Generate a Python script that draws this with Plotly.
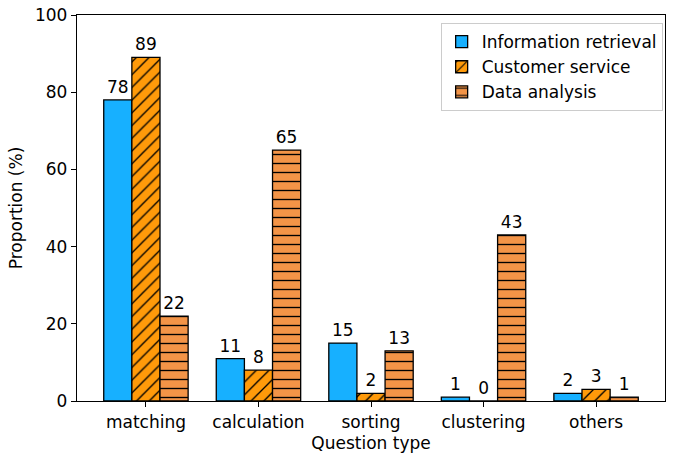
import plotly.graph_objects as go

categories = ["matching", "calculation", "sorting", "clustering", "others"]
info_retrieval = [78, 11, 15, 1, 2]
customer_service = [89, 8, 2, 0, 3]
data_analysis = [22, 65, 13, 43, 1]

FONT = "DejaVu Sans"
fig = go.Figure()
series = [
    ("Information retrieval", info_retrieval, "#17b0ff", ""),
    ("Customer service", customer_service, "#ff9a0a", "/"),
    ("Data analysis", data_analysis, "#f39447", "-"),
]
for name, vals, col, pat in series:
    fig.add_trace(go.Bar(
        name=name, x=categories, y=vals,
        text=[str(v) for v in vals], textposition="outside",
        textfont=dict(family=FONT, size=17, color="black"),
        cliponaxis=False,
        marker=dict(color=col, line=dict(color="black", width=1.3),
                    pattern=dict(shape=pat, fgcolor="black", bgcolor=col,
                                 size=9, solidity=0.15, fillmode="replace") if pat else None),
    ))

fig.update_layout(
    width=682, height=459,
    margin=dict(l=77, r=17, t=15, b=58, autoexpand=False),
    paper_bgcolor="white", plot_bgcolor="white",
    barmode="group", bargap=0.25, bargroupgap=0,
    font=dict(family=FONT, size=17, color="black"),
    uniformtext=dict(minsize=17, mode="show"),
    xaxis=dict(range=[-0.6125, 4.6125], showline=True, linecolor="black", linewidth=1.3,
               mirror=True, ticks="outside", ticklen=5, tickcolor="black", automargin=False,
               tickfont=dict(size=17),
               title=dict(text="Question type", font=dict(size=17), standoff=6)),
    yaxis=dict(range=[0, 100], tickvals=[0, 20, 40, 60, 80, 100], showline=True,
               linecolor="black", linewidth=1.3, mirror=True, ticks="outside", ticklen=5,
               tickcolor="black", showgrid=False, zeroline=False, automargin=False,
               tickfont=dict(size=17), ticklabeloverflow="allow",
               title=dict(text="Proportion (%)", font=dict(size=17), standoff=8)),
    legend=dict(x=0.996, y=0.979, xanchor="right", yanchor="top",
                bordercolor="#cccccc", borderwidth=1, bgcolor="white",
                font=dict(size=17), tracegroupgap=0),
    showlegend=True,
)
fig.write_html("out.html", config={"displayModeBar": False},
               post_script="document.body.style.margin='0';")
